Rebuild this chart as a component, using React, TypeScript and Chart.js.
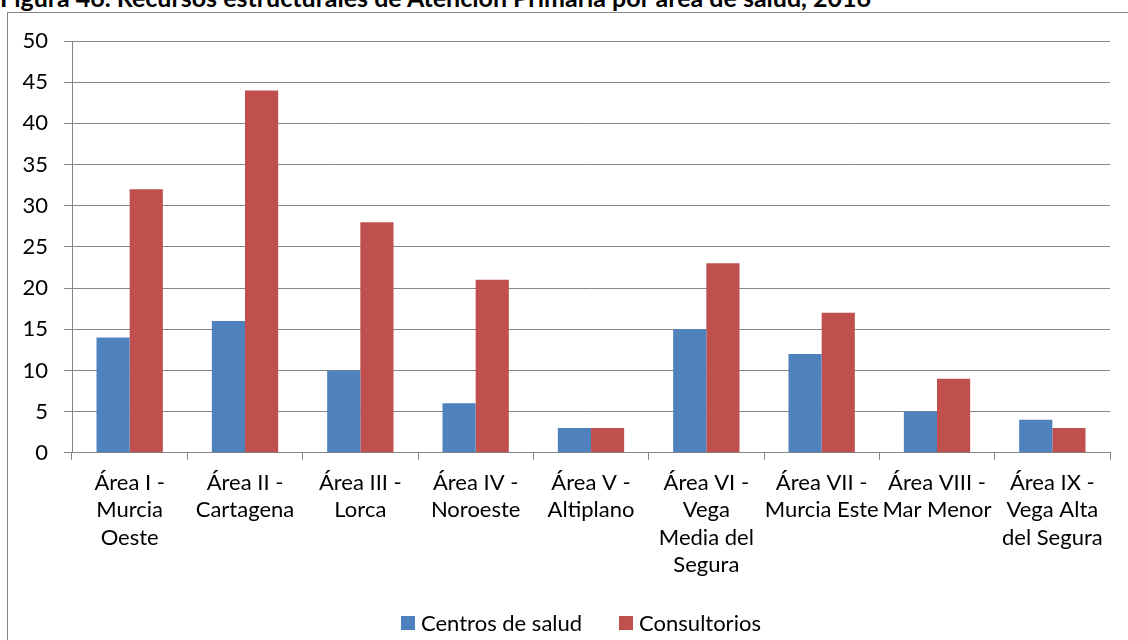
import React, { useEffect, useRef } from "react";
import { Chart, registerables } from "chart.js";

Chart.register(...registerables);

const areas: string[][] = [
  ["Área I -", "Murcia", "Oeste"],
  ["Área II -", "Cartagena"],
  ["Área III -", "Lorca"],
  ["Área IV -", "Noroeste"],
  ["Área V -", "Altiplano"],
  ["Área VI -", "Vega", "Media del", "Segura"],
  ["Área VII -", "Murcia Este"],
  ["Área VIII -", "Mar Menor"],
  ["Área IX -", "Vega Alta", "del Segura"],
];
const centrosDeSalud: number[] = [14, 16, 10, 6, 3, 15, 12, 5, 4];
const consultorios: number[] = [32, 44, 28, 21, 3, 23, 17, 9, 3];
const yTicks: number[] = [0, 5, 10, 15, 20, 25, 30, 35, 40, 45, 50];

const seriesNames = ["Centros de salud", "Consultorios"];
const seriesColors = ["#4F81BD", "#C0504D"];

const FONT = "Lato, 'Open Sans', sans-serif";
const GRID = "#868686";

export default function App() {
  const ref = useRef<HTMLCanvasElement | null>(null);

  useEffect(() => {
    document.body.style.margin = "0";
    const canvas = ref.current;
    if (!canvas) return;
    const chart = new Chart(canvas, {
      type: "bar",
      data: {
        labels: areas,
        datasets: [
          {
            label: seriesNames[0],
            data: centrosDeSalud,
            backgroundColor: seriesColors[0],
            categoryPercentage: 0.575,
            barPercentage: 1,
          },
          {
            label: seriesNames[1],
            data: consultorios,
            backgroundColor: seriesColors[1],
            categoryPercentage: 0.575,
            barPercentage: 1,
          },
        ],
      },
      options: {
        animation: false,
        responsive: false,
        maintainAspectRatio: false,
        layout: { padding: { left: 17, right: 18, top: 41, bottom: 52 } },
        plugins: {
          title: { display: false },
          tooltip: { enabled: false },
          legend: { display: false },
        },
        scales: {
          x: {
            grid: {
              display: true,
              drawOnChartArea: false,
              drawTicks: true,
              tickLength: 7,
              color: GRID,
              offset: true,
            },
            border: { color: GRID, width: 1 },
            ticks: {
              font: { family: FONT, size: 22, lineHeight: 1.23 },
              color: "#000",
              maxRotation: 0,
              autoSkip: false,
              padding: 10,
            },
          },
          y: {
            min: 0,
            max: 50,
            afterBuildTicks: (axis: any) => {
              axis.ticks = yTicks.map((v) => ({ value: v }));
            },
            afterFit: (axis: any) => {
              axis.width = 55;
            },
            grid: { color: GRID, tickLength: 8, lineWidth: 1 },
            border: { color: GRID, width: 1 },
            ticks: {
              font: { family: FONT, size: 22 },
              color: "#000",
              padding: 16,
            },
          },
        },
      },
    });
    return () => chart.destroy();
  }, []);

  return (
    <div
      style={{
        position: "relative",
        width: 1128,
        height: 640,
        overflow: "hidden",
        background: "#fff",
      }}
    >
      <div
        style={{
          position: "absolute",
          left: 0,
          top: -18,
          fontFamily: FONT,
          fontSize: 25,
          fontWeight: "bold",
          whiteSpace: "nowrap",
          color: "#000",
        }}
      >
        Figura 46. Recursos estructurales de Atención Primaria por área de salud, 2016
      </div>
      <div
        style={{
          position: "absolute",
          left: 7,
          top: 12,
          width: 1140,
          height: 700,
          border: `1px solid ${GRID}`,
          boxSizing: "border-box",
        }}
      />
      <canvas
        ref={ref}
        width={1128}
        height={640}
        style={{ position: "absolute", left: 0, top: 0 }}
      />
      <div
        style={{
          position: "absolute",
          left: 401,
          top: 610,
          display: "flex",
          alignItems: "center",
          fontFamily: FONT,
          fontSize: 22,
          lineHeight: "26px",
          color: "#000",
          whiteSpace: "nowrap",
        }}
      >
        {seriesNames.map((name, i) => (
          <div
            key={name}
            style={{ display: "flex", alignItems: "center", marginRight: 37 }}
          >
            <span
              style={{
                display: "inline-block",
                width: 14,
                height: 14,
                background: seriesColors[i],
                marginRight: 6,
              }}
            />
            <span>{name}</span>
          </div>
        ))}
      </div>
    </div>
  );
}
